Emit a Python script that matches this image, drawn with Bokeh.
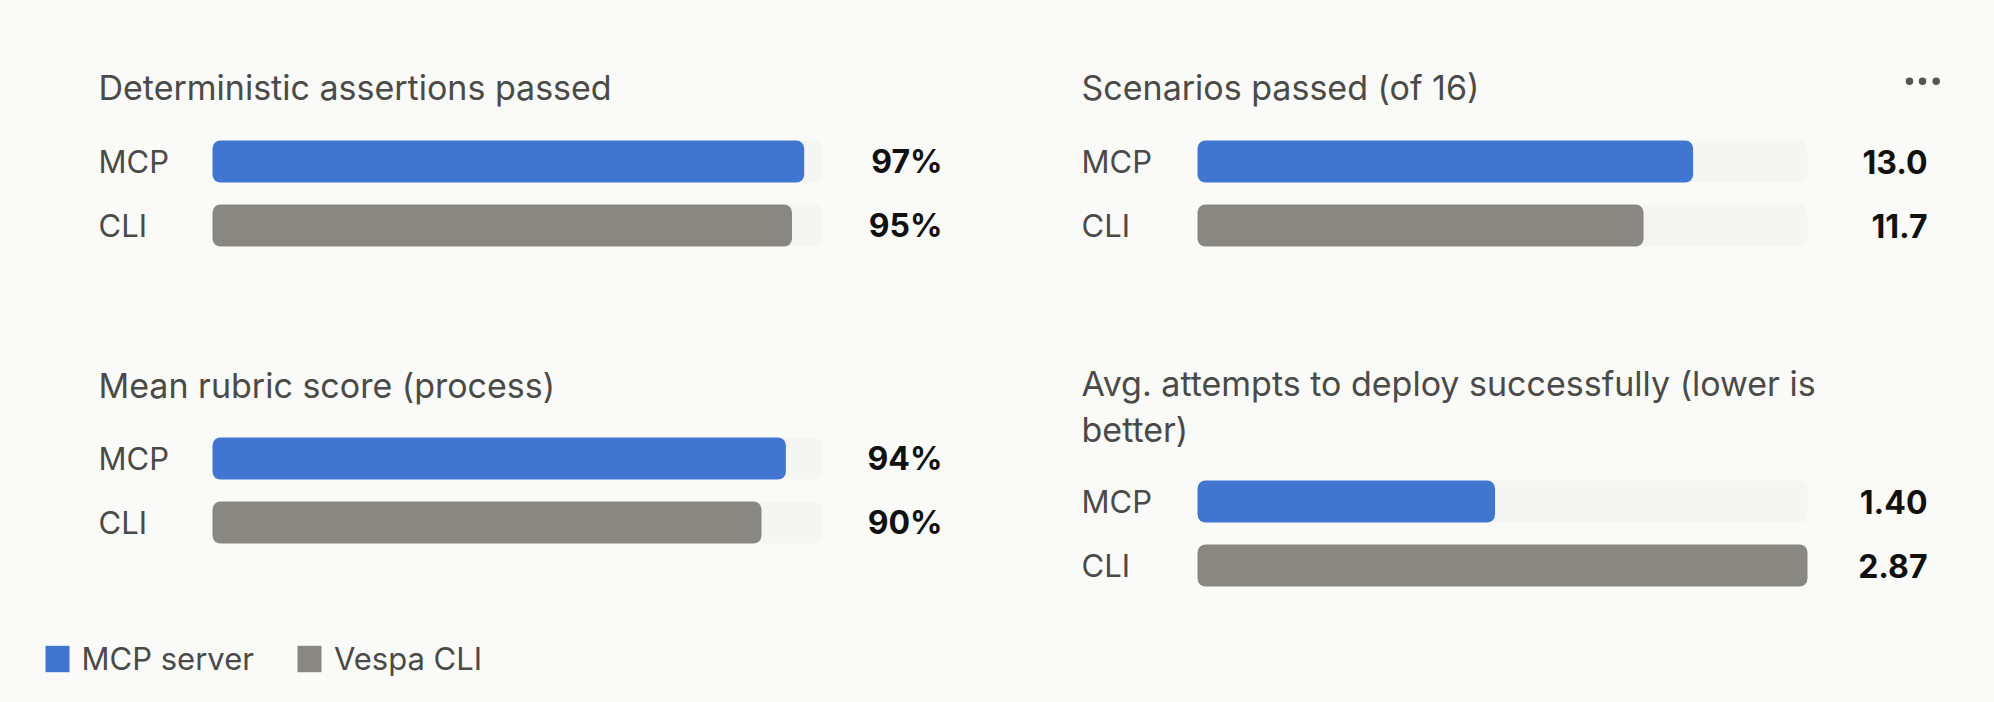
import numpy as np
from bokeh.plotting import figure
from bokeh.layouts import column, row
from bokeh.models import Range1d, Legend, LegendItem
from bokeh.core.properties import value
from bokeh.embed import file_html
from bokeh.resources import INLINE

# datos
series = ["MCP", "CLI"]
legend_names = ["MCP server", "Vespa CLI"]

det_title = "Deterministic assertions passed"
det_values = [97, 95]
det_labels = ["97%", "95%"]
det_max = 100

scen_title = "Scenarios passed (of 16)"
scen_values = [13.0, 11.7]
scen_labels = ["13.0", "11.7"]
scen_max = 16

rubric_title = "Mean rubric score (process)"
rubric_values = [94, 90]
rubric_labels = ["94%", "90%"]
rubric_max = 100

attempt_title = "Avg. attempts to deploy successfully (lower is\nbetter)"
attempt_values = [1.40, 2.87]
attempt_labels = ["1.40", "2.87"]
attempt_max = 2.87

# estilos
BG = "#FAFAF8"
TRACK = "#F5F5F3"
COLORS = ["#4176D0", "#898782"]
TXT = "#4A4A48"
FONT = "Inter"
ROW = 64      # px entre filas
BAR_H = 42    # px alto de barra


def panel(title, vals, labels, vmax, width, height, track_x, row_y, label_x,
          value_x, title_y, track_w=610):
    ppu = track_w / vmax
    p = figure(width=width, height=height, output_backend="svg", toolbar_location=None,
               x_range=Range1d(-track_x / ppu, (width - track_x) / ppu),
               y_range=Range1d((height - row_y) / ROW, -row_y / ROW),
               min_border=0)
    p.axis.visible = False
    p.grid.visible = False
    p.outline_line_color = None
    p.background_fill_color = BG
    p.border_fill_color = BG

    idx = np.arange(len(series))
    p.hbar(y=idx, left=0, right=[vmax] * len(series), height=BAR_H / ROW,
           fill_color=TRACK, line_color=None, border_radius=8)
    rends = []
    for i, color in enumerate(COLORS):
        r = p.hbar(y=[idx[i]], left=0, right=[vals[i]], height=BAR_H / ROW,
                   fill_color=color, line_color=None, border_radius=8)
        rends.append(r)

    p.text(x=0, y=idx, text=series, x_offset=label_x - track_x,
           text_align="left", text_baseline="middle", text_color=TXT,
           text_font=value(FONT), text_font_size="31px")
    p.text(x=vmax, y=idx, text=labels, x_offset=value_x - track_x - track_w,
           text_align="right", text_baseline="middle", text_color="#111111",
           text_font=value(FONT), text_font_size="32px", text_font_style="bold")
    p.text(x=[0], y=[0], text=[title], x_offset=label_x - track_x, y_offset=title_y - row_y,
           text_align="left", text_baseline="middle", text_color=TXT,
           text_font=value(FONT), text_font_size="34px", text_line_height=1.12)
    return p, rends, ppu


p1, _, _ = panel(det_title, det_values, det_labels, det_max, 997, 300,
                 track_x=212, row_y=161, label_x=98, value_x=942, title_y=87)
p2, _, ppu2 = panel(scen_title, scen_values, scen_labels, scen_max, 997, 300,
                    track_x=200, row_y=161, label_x=84, value_x=930, title_y=87)
p3, rends3, _ = panel(rubric_title, rubric_values, rubric_labels, rubric_max, 997, 402,
                      track_x=212, row_y=158, label_x=98, value_x=942, title_y=85)
p4, _, _ = panel(attempt_title, attempt_values, attempt_labels, attempt_max, 997, 402,
                 track_x=200, row_y=201, label_x=84, value_x=930, title_y=106)

# puntos del menu
dots_px = np.array([712, 725, 738.7])
p2.scatter(x=dots_px / ppu2, y=[-80.3 / ROW] * 3, size=7.5,
           fill_color="#555555", line_color=None)

legend = Legend(items=[LegendItem(label=legend_names[i], renderers=[rends3[i]]) for i in range(2)],
                orientation="horizontal", location=(41.6, 25), padding=0, margin=0,
                glyph_width=30, glyph_height=33, label_standoff=10, spacing=40,
                label_text_font=FONT, label_text_font_size="31px", label_text_color=TXT,
                border_line_color=None, background_fill_alpha=0)
p3.add_layout(legend)

layout = column(row(p1, p2), row(p3, p4))
open("out.html", "w").write(file_html(layout, INLINE))
